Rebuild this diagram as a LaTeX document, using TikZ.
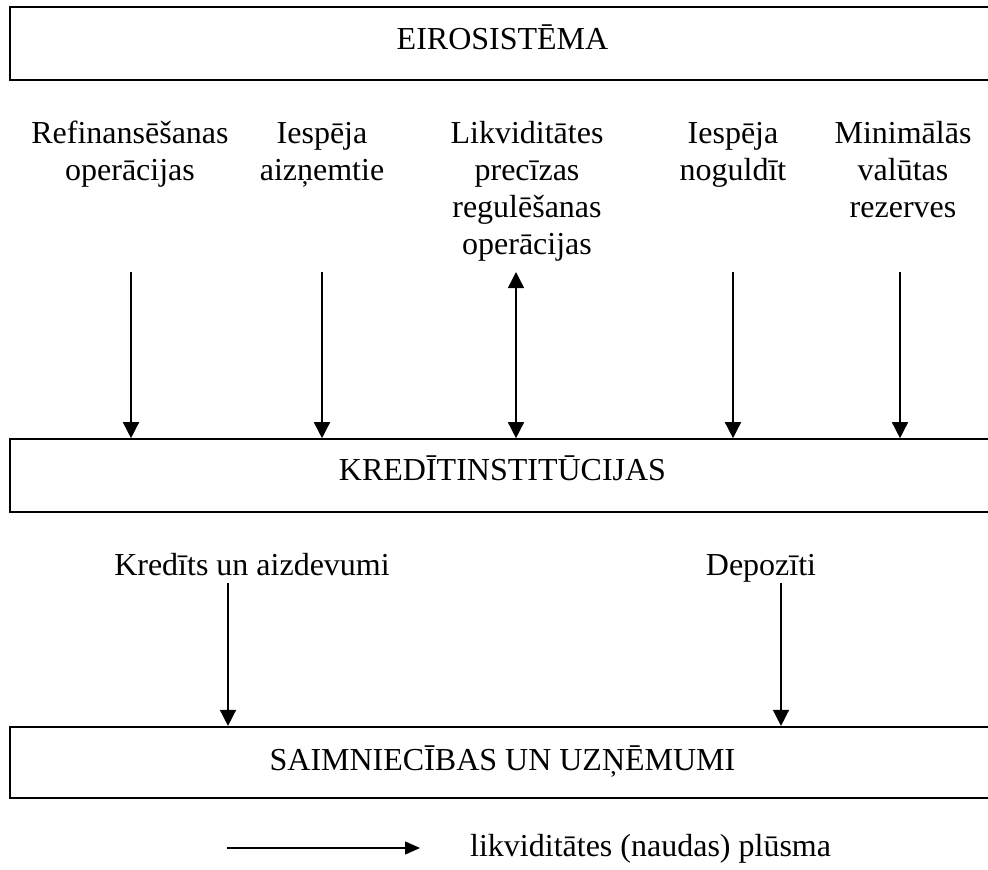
\documentclass[tikz,border=0pt]{standalone}
\usepackage{fontspec}
\setmainfont{Liberation Serif}
\usetikzlibrary{arrows.meta}

\tikzset{
  box/.style={draw, minimum width=985pt, inner sep=0pt, text depth=0pt},
  lbl/.style={align=center, anchor=base},
  flow/.style={line width=1.5pt, -{Triangle[length=16pt,width=16pt]}},
  dflow/.style={line width=1.5pt, {Triangle[length=16pt,width=16pt]}-{Triangle[length=16pt,width=16pt]}},
}

\begin{document}
\begin{tikzpicture}[x=1pt,y=-1pt,font=\fontsize{32}{37}\selectfont]
\useasboundingbox (0,0) rectangle (988,870);
% the three levels
\node [box, line width=2.7pt, minimum height=73pt, text height=11pt] (euro) at (502.5,43.5) {EIROSISTĒMA};
\node [box, line width=1.6pt, minimum height=73pt, text height=9pt] (kred) at (502.5,475.5) {KREDĪTINSTITŪCIJAS};
\node [box, line width=2.2pt, minimum height=71pt, text height=15pt] (firms) at (502.5,762.5) {SAIMNIECĪBAS UN UZŅĒMUMI};
% instruments (base = last line)
\node [lbl] (refi) at (130,180) {Refinansēšanas\\operācijas};
\node [lbl] (aizn) at (322,180) {Iespēja\\aizņemtie};
\node [lbl] (likv) at (527,254) {Likviditātes\\precīzas\\regulēšanas\\operācijas};
\node [lbl] (nogu) at (733,180) {Iespēja\\noguldīt};
\node [lbl] (mini) at (903,217) {Minimālās\\valūtas\\rezerves};
\coordinate (a1) at (131,272);
\coordinate (a2) at (322,272);
\coordinate (a3) at (516,272);
\coordinate (a4) at (733,272);
\coordinate (a5) at (900,272);
\foreach \c in {a1,a2,a4,a5}
  \draw [flow] (\c) -- (\c |- kred.north);
\draw [dflow] (a3) -- (a3 |- kred.north);
% banks to firms
\node [lbl] (kredits) at (252,575) {Kredīts un aizdevumi};
\node [lbl] (depo) at (761,575) {Depozīti};
\coordinate (b1) at (228,583);
\coordinate (b2) at (781,583);
\draw [flow] (b1) -- (b1 |- firms.north);
\draw [flow] (b2) -- (b2 |- firms.north);
% legend
\coordinate (l1) at (227,848);
\coordinate (l2) at (420,848);
\draw [line width=1.5pt, -{Triangle[length=15pt,width=13pt]}] (l1) -- (l2);
\node [anchor=base west, inner sep=0pt] (legend) at (470,856) {likviditātes (naudas) plūsma};
\end{tikzpicture}
\end{document}
